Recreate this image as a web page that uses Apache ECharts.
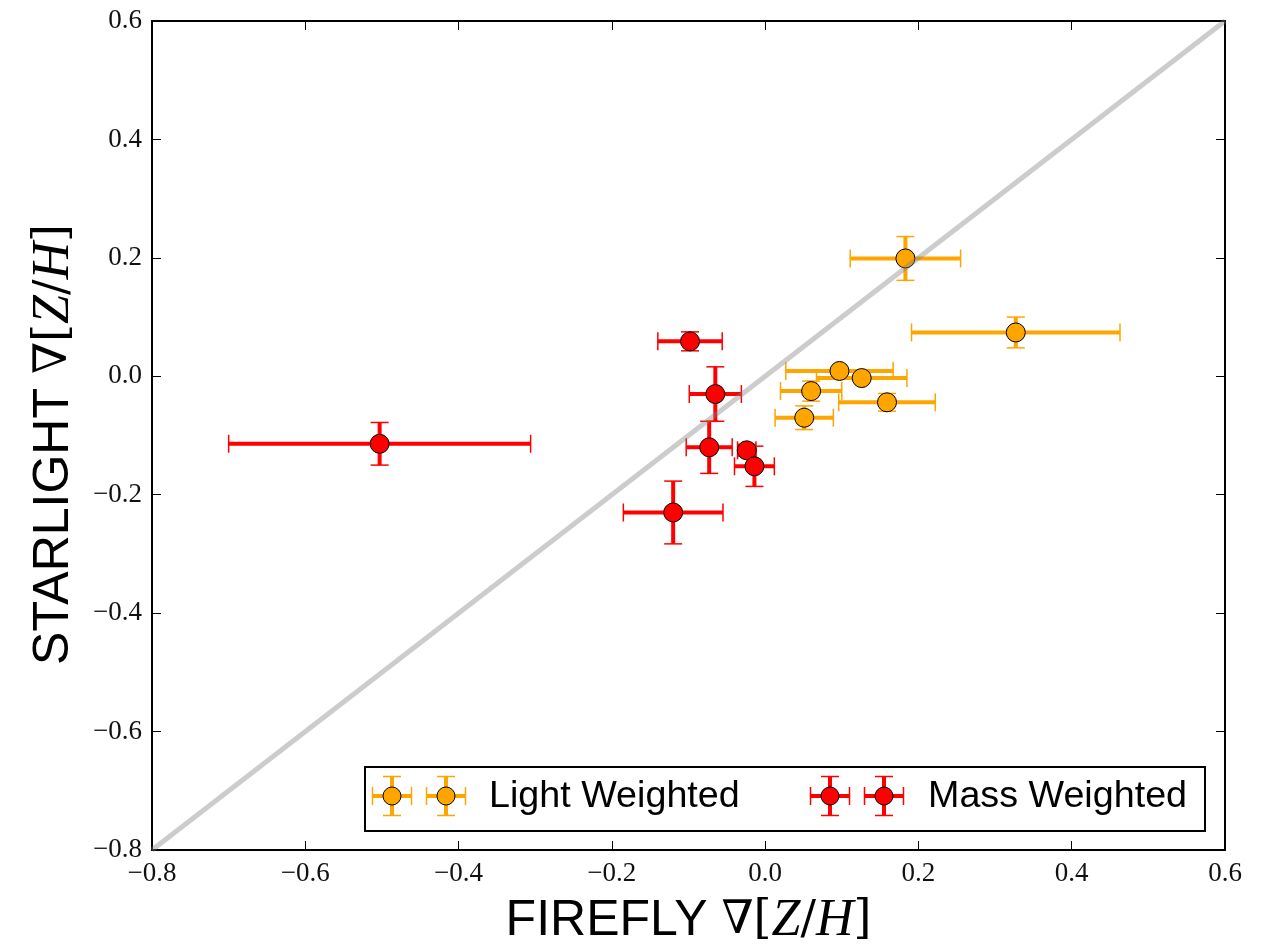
<!DOCTYPE html>
<html>
<head>
<meta charset="utf-8">
<script src="https://cdn.jsdelivr.net/npm/echarts@6/dist/echarts.min.js"></script>
<style>
  html, body { margin: 0; padding: 0; background: #fff; }
  #chart { width: 1269px; height: 948px; }
</style>
</head>
<body>
<div id="chart"></div>
<script>
// Metallicity gradients: FIREFLY (x) versus STARLIGHT (y)
const lightX    = [0.183, 0.327, 0.097, 0.126, 0.060, 0.159, 0.051];
const lightXErr = [0.072, 0.136, 0.070, 0.059, 0.040, 0.063, 0.038];
const lightY    = [0.199, 0.074, 0.009, -0.003, -0.025, -0.044, -0.070];
const lightYErr = [0.037, 0.026, 0.005, 0.005, 0.017, 0.015, 0.020];

const massX    = [-0.503, -0.098, -0.065, -0.073, -0.024, -0.014, -0.120];
const massXErr = [0.197, 0.042, 0.034, 0.030, 0.012, 0.026, 0.065];
const massY    = [-0.114, 0.059, -0.030, -0.120, -0.125, -0.152, -0.230];
const massYErr = [0.036, 0.016, 0.046, 0.044, 0.010, 0.034, 0.053];

const axisMin = -0.8, axisMax = 0.6, axisStep = 0.2;
const oneToOne = [[-0.8, -0.8], [0.6, 0.6]];

const LIGHT_COLOR = '#FFA500';
const MASS_COLOR = '#FF0000';

function rows(x, y, xe, ye) {
  return x.map((v, i) => [v, y[i], xe[i], ye[i]]);
}
const lightRows = rows(lightX, lightY, lightXErr, lightYErr);
const massRows = rows(massX, massY, massXErr, massYErr);

// error bars with thin end caps
function errorBars(color) {
  return function (params, api) {
    const x = api.value(0), y = api.value(1), xe = api.value(2), ye = api.value(3);
    const l = api.coord([x - xe, y]), r = api.coord([x + xe, y]);
    const t = api.coord([x, y + ye]), b = api.coord([x, y - ye]);
    const cap = 9;
    const bar = { stroke: color, lineWidth: 4 };
    const capStyle = { stroke: color, lineWidth: 1.5 };
    return {
      type: 'group',
      children: [
        { type: 'line', shape: { x1: l[0], y1: l[1], x2: r[0], y2: r[1] }, style: bar },
        { type: 'line', shape: { x1: t[0], y1: t[1], x2: b[0], y2: b[1] }, style: bar },
        { type: 'line', shape: { x1: l[0], y1: l[1] - cap, x2: l[0], y2: l[1] + cap }, style: capStyle },
        { type: 'line', shape: { x1: r[0], y1: r[1] - cap, x2: r[0], y2: r[1] + cap }, style: capStyle },
        { type: 'line', shape: { x1: t[0] - cap, y1: t[1], x2: t[0] + cap, y2: t[1] }, style: capStyle },
        { type: 'line', shape: { x1: b[0] - cap, y1: b[1], x2: b[0] + cap, y2: b[1] }, style: capStyle }
      ]
    };
  };
}

function tickText(v) {
  const s = Math.abs(v).toFixed(1);
  return (v < -1e-9 ? '\u2212' : '') + s;
}

const mathRich = {
  s: { fontFamily: 'Liberation Sans', fontSize: 50, color: '#000' },
  m: { fontFamily: 'DejaVu Serif', fontSize: 46, color: '#000' },
  i: { fontFamily: 'Liberation Serif', fontStyle: 'italic', fontSize: 52, color: '#000' }
};
const axisName = label => `{s|${label} }{m|\u2207[}{i|Z}{m|/}{i|H}{m|]}`;

const frameLine = { show: true, onZero: false, lineStyle: { color: '#000', width: 2 } };
const innerTicks = { show: true, inside: true, length: 9, lineStyle: { color: '#000', width: 1 } };
const labelStyle = { fontFamily: 'Liberation Serif', fontSize: 27, color: '#111', formatter: tickText };

// legend glyph: two markers with error bars
function legendGlyph(cx, cy, color) {
  const arm = 19.5, cap = 9;
  return [
    { type: 'line', shape: { x1: cx - arm, y1: cy, x2: cx + arm, y2: cy }, style: { stroke: color, lineWidth: 4 } },
    { type: 'line', shape: { x1: cx, y1: cy - arm, x2: cx, y2: cy + arm }, style: { stroke: color, lineWidth: 4 } },
    { type: 'line', shape: { x1: cx - arm, y1: cy - cap, x2: cx - arm, y2: cy + cap }, style: { stroke: color, lineWidth: 1.5 } },
    { type: 'line', shape: { x1: cx + arm, y1: cy - cap, x2: cx + arm, y2: cy + cap }, style: { stroke: color, lineWidth: 1.5 } },
    { type: 'line', shape: { x1: cx - cap, y1: cy - arm, x2: cx + cap, y2: cy - arm }, style: { stroke: color, lineWidth: 1.5 } },
    { type: 'line', shape: { x1: cx - cap, y1: cy + arm, x2: cx + cap, y2: cy + arm }, style: { stroke: color, lineWidth: 1.5 } },
    { type: 'circle', shape: { cx: cx, cy: cy, r: 9 }, style: { fill: color, stroke: '#000', lineWidth: 1 } }
  ];
}

const chart = echarts.init(document.getElementById('chart'), null, { renderer: 'canvas' });

chart.setOption({
  backgroundColor: '#fff',
  animation: false,
  grid: { left: 152, right: 44, top: 21, bottom: 98, containLabel: false, outerBoundsMode: 'none' },
  xAxis: [
    {
      type: 'value', min: axisMin, max: axisMax, interval: axisStep, position: 'bottom',
      axisLine: frameLine, axisTick: innerTicks, splitLine: { show: false },
      axisLabel: Object.assign({ margin: 10 }, labelStyle),
      name: axisName('FIREFLY'), nameLocation: 'middle', nameGap: 45,
      nameTextStyle: { rich: mathRich }
    },
    {
      type: 'value', min: axisMin, max: axisMax, interval: axisStep, position: 'top',
      axisLine: frameLine, axisTick: innerTicks, splitLine: { show: false },
      axisLabel: { show: false }
    }
  ],
  yAxis: [
    {
      type: 'value', min: axisMin, max: axisMax, interval: axisStep, position: 'left',
      axisLine: frameLine, axisTick: innerTicks, splitLine: { show: false },
      axisLabel: Object.assign({ margin: 10 }, labelStyle),
      name: axisName('STARLIGHT'), nameLocation: 'middle', nameGap: 72, nameRotate: 90,
      nameTextStyle: { rich: mathRich, padding: [0, 18, 0, 0] }
    },
    {
      type: 'value', min: axisMin, max: axisMax, interval: axisStep, position: 'right',
      axisLine: frameLine, axisTick: innerTicks, splitLine: { show: false },
      axisLabel: { show: false }
    }
  ],
  series: [
    {
      name: 'Light Weighted', type: 'custom', xAxisIndex: 0, yAxisIndex: 0, z: 2,
      renderItem: errorBars(LIGHT_COLOR), data: lightRows, encode: { x: [0], y: [1] }
    },
    {
      name: 'Light Weighted', type: 'scatter', xAxisIndex: 0, yAxisIndex: 0, z: 3,
      symbol: 'circle', symbolSize: 19,
      itemStyle: { color: LIGHT_COLOR, borderColor: '#000', borderWidth: 1, opacity: 1 },
      data: lightRows.map(r => [r[0], r[1]])
    },
    {
      name: 'Mass Weighted', type: 'custom', xAxisIndex: 0, yAxisIndex: 0, z: 4,
      renderItem: errorBars(MASS_COLOR), data: massRows, encode: { x: [0], y: [1] }
    },
    {
      name: 'Mass Weighted', type: 'scatter', xAxisIndex: 0, yAxisIndex: 0, z: 5,
      symbol: 'circle', symbolSize: 19,
      itemStyle: { color: MASS_COLOR, borderColor: '#000', borderWidth: 1, opacity: 1 },
      data: massRows.map(r => [r[0], r[1]])
    },
    {
      name: '1:1', type: 'line', xAxisIndex: 0, yAxisIndex: 0, z: 6,
      data: oneToOne, symbol: 'none', silent: true,
      lineStyle: { color: 'rgba(128,128,128,0.4)', width: 5 }
    }
  ],
  graphic: [
    {
      type: 'group', z: 100,
      children: [
        { type: 'rect', shape: { x: 365, y: 767, width: 840, height: 64 }, style: { fill: '#fff', stroke: '#000', lineWidth: 2 } },
        ...legendGlyph(392, 796, LIGHT_COLOR),
        ...legendGlyph(446, 796, LIGHT_COLOR),
        { type: 'text', x: 489, y: 797, style: { text: 'Light Weighted', font: '37.7px "Liberation Sans"', fill: '#000', verticalAlign: 'middle' } },
        ...legendGlyph(830, 796, MASS_COLOR),
        ...legendGlyph(884, 796, MASS_COLOR),
        { type: 'text', x: 928, y: 797, style: { text: 'Mass Weighted', font: '37.7px "Liberation Sans"', fill: '#000', verticalAlign: 'middle' } }
      ]
    }
  ]
});
</script>
</body>
</html>
